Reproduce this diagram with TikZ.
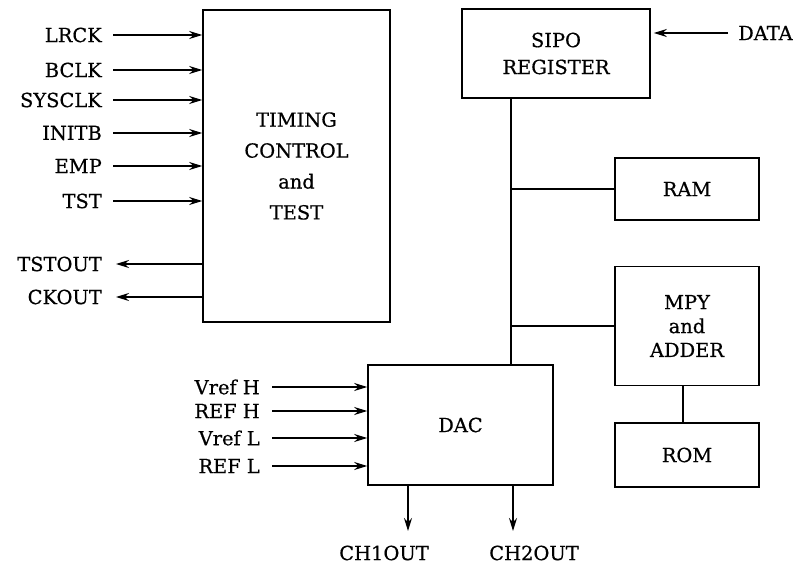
\documentclass[tikz,border=0pt]{standalone}
\usepackage{fontspec}
\setmainfont{DejaVu Serif}[FakeBold=0.5]
\usepackage{tikz}
\usetikzlibrary{arrows.meta,positioning,calc}

\begin{document}
\begin{tikzpicture}[
    x=1bp, y=-1bp,
    font=\fontsize{19.5}{24}\selectfont,
    block/.style={draw, line width=1.6bp, align=center, inner sep=0pt},
    sig/.style={anchor=east, inner sep=0pt},
    wire/.style={line width=1.6bp},
    arrow/.style={-{Stealth[length=13bp,width=8bp]}, line width=1.6bp}
]
\useasboundingbox (0,0) rectangle (803,566);

\node[block, minimum width=187bp, minimum height=312bp] (timing) at (296.5,166) {TIMING\\[7bp]CONTROL\\[7bp]and\\[7bp]TEST};
\node[block, minimum width=188bp, minimum height=89bp] (sipo) at (556,53.5) {SIPO\\[3bp]REGISTER};
\node[block, minimum width=144bp, minimum height=62bp] (ram) at (687,189) {RAM};
\node[block, minimum width=144bp, minimum height=119bp] (mpy) at (687,326) {MPY\\and\\ADDER};
\node[block, minimum width=144bp, minimum height=64bp] (rom) at (687,455) {ROM};
\node[block, minimum width=185bp, minimum height=120bp] (dac) at (460.5,425) {DAC};

\node[sig] (lrck) at (102,35) {LRCK};
\node[sig] (bclk) at (102,70) {BCLK};
\node[sig] (sysclk) at (102,100) {SYSCLK};
\node[sig] (initb) at (102,133) {INITB};
\node[sig] (emp) at (102,166) {EMP};
\node[sig] (tst) at (102,201) {TST};
\node[sig] (tstout) at (102,264) {TSTOUT};
\node[sig] (ckout) at (102,297) {CKOUT};

\node[sig] (vrefh) at (260,387) {Vref H};
\node[sig] (refh) at (260,411) {REF H};
\node[sig] (vrefl) at (260,438) {Vref L};
\node[sig] (refl) at (260,466) {REF L};

\node[anchor=west, inner sep=0pt] (data) at (738,33) {DATA};
\node[inner sep=0pt] (ch1out) at (384,553) {CH1OUT};
\node[inner sep=0pt] (ch2out) at (534,553) {CH2OUT};
\coordinate (bus) at (511,0);
\coordinate (ch1) at (408,531);
\coordinate (ch2) at (513,531);

\draw[arrow] ([xshift=11bp]lrck.east) -- (lrck -| timing.west);
\draw[arrow] ([xshift=11bp]bclk.east) -- (bclk -| timing.west);
\draw[arrow] ([xshift=11bp]sysclk.east) -- (sysclk -| timing.west);
\draw[arrow] ([xshift=11bp]initb.east) -- (initb -| timing.west);
\draw[arrow] ([xshift=11bp]emp.east) -- (emp -| timing.west);
\draw[arrow] ([xshift=11bp]tst.east) -- (tst -| timing.west);
\draw[arrow] (tstout -| timing.west) -- ([xshift=14bp]tstout.east);
\draw[arrow] (ckout -| timing.west) -- ([xshift=14bp]ckout.east);

\draw[arrow] ([xshift=12bp]vrefh.east) -- (vrefh -| dac.west);
\draw[arrow] ([xshift=12bp]refh.east) -- (refh -| dac.west);
\draw[arrow] ([xshift=12bp]vrefl.east) -- (vrefl -| dac.west);
\draw[arrow] ([xshift=12bp]refl.east) -- (refl -| dac.west);

\draw[arrow, shorten >=3bp] ([xshift=-10bp]data.west) -- (data -| sipo.east);
\draw[arrow] (ch1 |- dac.south) -- (ch1);
\draw[arrow] (ch2 |- dac.south) -- (ch2);

\draw[wire] (bus |- sipo.south) -- (bus |- dac.north);
\draw[wire] (bus |- ram.west) -- (ram.west);
\draw[wire] (bus |- mpy.west) -- (mpy.west);
\draw[wire] ([xshift=-4bp]mpy.south) -- ([xshift=-4bp]rom.north);

\end{tikzpicture}
\end{document}
